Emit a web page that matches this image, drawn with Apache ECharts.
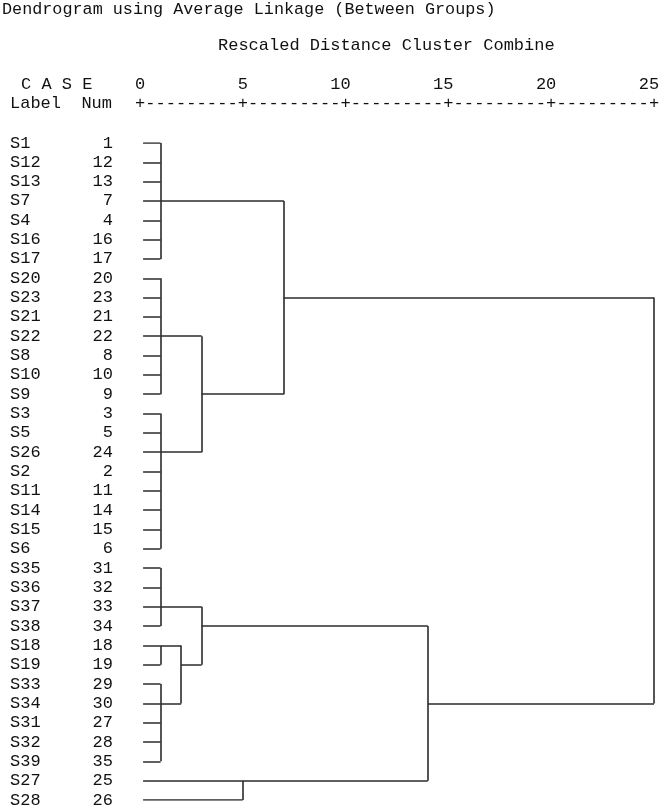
<!DOCTYPE html>
<html>
<head>
<meta charset="utf-8">
<script src="https://cdn.jsdelivr.net/npm/echarts@6/dist/echarts.min.js"></script>
<style>
  html, body { margin: 0; padding: 0; background: #fff; }
  #main { width: 661px; height: 807px; }
</style>
</head>
<body>
<div id="main"></div>
<script>
var FONT = '"Liberation Mono", "DejaVu Sans Mono", monospace';
var INK = "#111";

// case labels and numbers, top to bottom
var caseLabels = ["S1", "S12", "S13", "S7", "S4", "S16", "S17", "S20", "S23", "S21", "S22",
  "S8", "S10", "S9", "S3", "S5", "S26", "S2", "S11", "S14", "S15", "S6", "S35", "S36",
  "S37", "S38", "S18", "S19", "S33", "S34", "S31", "S32", "S39", "S27", "S28"];
var caseNums = [1, 12, 13, 7, 4, 16, 17, 20, 23, 21, 22, 8, 10, 9, 3, 5, 24, 2, 11, 14,
  15, 6, 31, 32, 33, 34, 18, 19, 29, 30, 27, 28, 35, 25, 26];

// ruler ticks
var distTicks = [0, 5, 10, 15, 20, 25];
var leafStart = 0.15;

// merges: [name, rescaled distance, members (row index or earlier merge), row the link leaves from]
var merges = [
  ["A", 1, [0, 1, 2, 3, 4, 5, 6], 3],
  ["B", 1, [7, 8, 9, 10, 11, 12, 13], 10],
  ["C", 1, [14, 15, 16, 17, 18, 19, 20, 21], 16],
  ["D", 1, [22, 23, 24, 25], 24],
  ["E", 1, [26, 27], 26],
  ["F", 1, [28, 29, 30, 31, 32], 29],
  ["G", 5, [33, 34], 33],
  ["BC", 3, ["B", "C"], 13],
  ["EF", 2, ["E", "F"], 27],
  ["DEF", 3, ["D", "EF"], 25],
  ["ABC", 7, ["A", "BC"], 8],
  ["DEFG", 14, ["DEF", "G"], 29],
  ["ALL", 25, ["ABC", "DEFG"], null]
];

function buildSegments() {
  var done = {};
  var segs = [];
  merges.forEach(function (m) {
    var level = m[1];
    var rows = [];
    m[2].forEach(function (k) {
      var child = typeof k === "number" ? { level: leafStart, row: k } : done[k];
      segs.push({ coords: [[child.level, child.row], [level, child.row]] });
      rows.push(child.row);
    });
    segs.push({ coords: [[level, Math.min.apply(null, rows)], [level, Math.max.apply(null, rows)]] });
    done[m[0]] = { level: level, row: m[3] };
  });
  return segs;
}

var myChart = echarts.init(document.getElementById("main"));

option = {
  backgroundColor: "#fff",
  animation: false,
  title: [
    {
      text: "Dendrogram using Average Linkage (Between Groups)",
      left: 2, top: 1, padding: 0,
      textStyle: { fontFamily: FONT, fontSize: 16.8, fontWeight: "normal", color: INK }
    },
    {
      text: "Rescaled Distance Cluster Combine",
      left: 218, top: 37, padding: 0,
      textStyle: { fontFamily: FONT, fontSize: 17, fontWeight: "normal", color: INK }
    }
  ],
  graphic: [
    { type: "text", x: 21, y: 84, style: { text: "C A S E", font: "17px " + FONT, fill: INK, verticalAlign: "middle" } },
    { type: "text", x: 10, y: 103, style: { text: "Label  Num", font: "17px " + FONT, fill: INK, verticalAlign: "middle" } }
  ],
  grid: { left: 140, right: 7, top: 143, bottom: 7, outerBoundsMode: "none", containLabel: false },
  xAxis: [
    {
      type: "value", position: "top", min: 0, max: 25, interval: 5,
      axisLine: { show: false }, axisTick: { show: false }, splitLine: { show: false },
      axisLabel: {
        margin: 50, fontFamily: FONT, fontSize: 17, color: INK,
        formatter: function (v) { return v < 10 ? String(v) : v + " "; }
      }
    },
    {
      type: "value", position: "top", min: 0, max: 25, interval: 0.5,
      axisLine: { show: false }, axisTick: { show: false }, splitLine: { show: false },
      axisLabel: {
        margin: 31, fontFamily: FONT, fontSize: 17, color: INK,
        formatter: function (v) { return distTicks.indexOf(v) >= 0 ? "+" : "-"; }
      }
    }
  ],
  yAxis: [
    { type: "value", min: 0, max: 34, inverse: true, show: false },
    {
      type: "category", data: caseLabels, inverse: true, boundaryGap: false, position: "left",
      axisLine: { show: false }, axisTick: { show: false },
      axisLabel: { interval: 0, align: "left", margin: 130, fontFamily: FONT, fontSize: 17, color: INK }
    },
    {
      type: "category", data: caseNums, inverse: true, boundaryGap: false, position: "left",
      axisLine: { show: false }, axisTick: { show: false },
      axisLabel: { interval: 0, align: "right", margin: 27, fontFamily: FONT, fontSize: 17, color: INK }
    }
  ],
  series: [
    {
      type: "lines",
      coordinateSystem: "cartesian2d",
      xAxisIndex: 0,
      yAxisIndex: 0,
      silent: true,
      lineStyle: { color: "#2b2b2b", width: 1.6, opacity: 1, curveness: 0 },
      data: buildSegments()
    }
  ]
};

myChart.setOption(option);
</script>
</body>
</html>
